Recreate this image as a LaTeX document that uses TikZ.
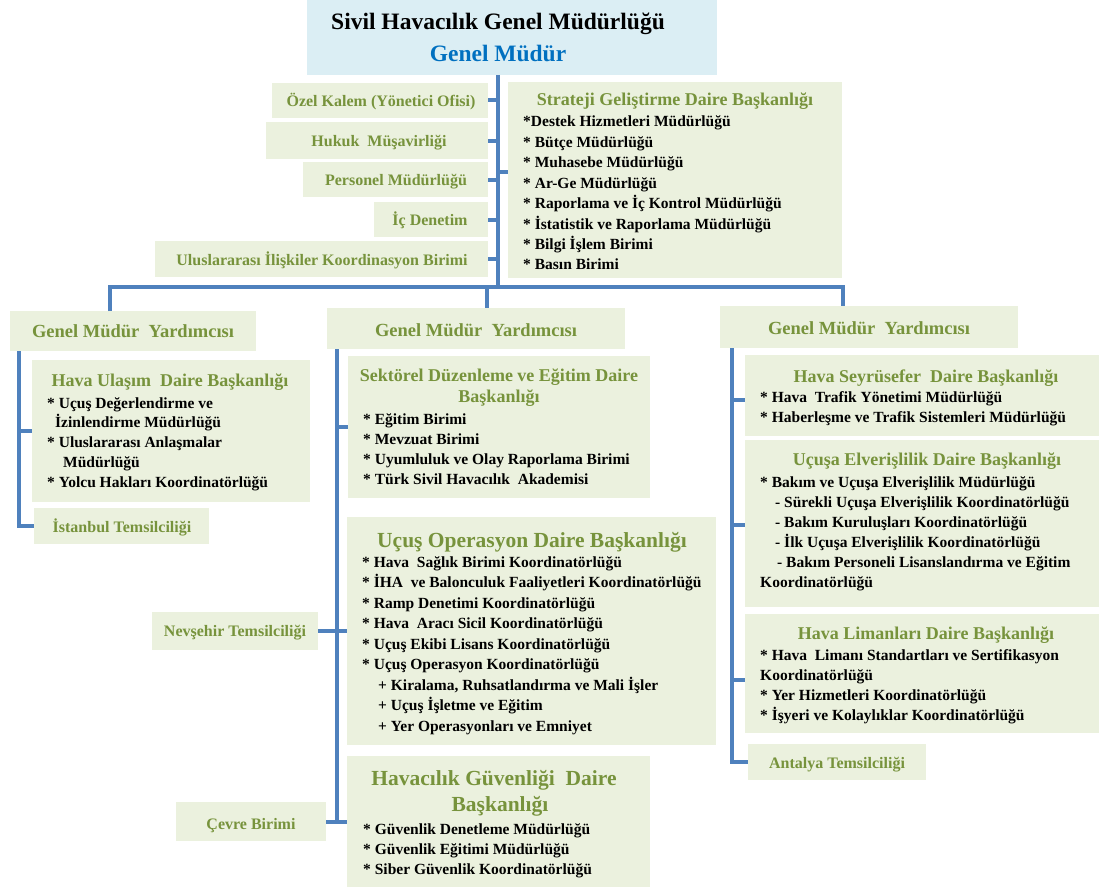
\documentclass[tikz,border=0pt]{standalone}
\usepackage{fontspec}
\setmainfont{Liberation Serif}
\definecolor{boxfill}{HTML}{EBF1DE}
\definecolor{topfill}{HTML}{DBEEF4}
\definecolor{lineblue}{HTML}{4F81BD}
\definecolor{grn}{HTML}{77933C}
\definecolor{topblue}{HTML}{0070C0}
\tikzset{
  box/.style={fill=boxfill, inner sep=0pt, outer sep=0pt, anchor=north west},
  conn/.style={draw=lineblue, line width=4pt},
  lbl/.style={text=grn, font=\bfseries\fontsize{16}{18}\selectfont, inner sep=0pt, anchor=base},
  gmy/.style={text=grn, font=\bfseries\fontsize{18.5}{21}\selectfont, inner sep=0pt, anchor=base},
  ttl/.style={text=grn, font=\bfseries\fontsize{18}{20}\selectfont, inner sep=0pt, anchor=base},
  bigttl/.style={text=grn, font=\bfseries\fontsize{21.5}{24}\selectfont, inner sep=0pt, anchor=base},
  itm/.style={text=black, font=\bfseries\fontsize{15.5}{18}\selectfont, inner sep=0pt, anchor=base west},
  toptxt/.style={font=\bfseries\fontsize{23.5}{26}\selectfont, inner sep=0pt, anchor=base},
}
\newcommand\bx[5]{\node[box, minimum width=#4pt, minimum height=#5pt] (#1) at (#2,#3) {};}
\newcommand\txtlines[5]{\foreach \myl [count=\myi] in {#5}{\node[itm] (#1\myi) at (#2,{#3+#4*(\myi-1)}) {\myl};}}
\begin{document}
\begin{tikzpicture}[x=1pt,y=-1pt]
\useasboundingbox (0,0) rectangle (1099,888);
% top
\node[box, fill=topfill, minimum width=410pt, minimum height=75pt] (top) at (307,0) {};
\node[toptxt] (toptitle) at (498,30) {Sivil Havacılık Genel Müdürlüğü};
\node[toptxt, text=topblue] (topsub) at (498,62) {Genel Müdür};
% staff units
\bx{ozel}{272}{83}{216}{35}
\node[lbl] (ozelt) at (381,106.5) {Özel Kalem (Yönetici Ofisi)};
\bx{hukuk}{266}{122}{222}{37}
\node[lbl] (hukukt) at (379,146) {Hukuk\ \ Müşavirliği};
\bx{pers}{303}{162}{185}{35}
\node[lbl] (perst) at (396,185) {Personel Müdürlüğü};
\bx{icd}{374}{202}{114}{35}
\node[lbl] (icdt) at (430,225) {İç Denetim};
\bx{ulus}{155}{241}{333}{36}
\node[lbl] (ulust) at (322,265) {Uluslararası İlişkiler Koordinasyon Birimi};
% strategy
\bx{strat}{508}{82}{334}{196}
\node[ttl] (stratt) at (675,106) {Strateji Geliştirme Daire Başkanlığı};
\txtlines{st}{523}{127}{20.4}{*Destek Hizmetleri Müdürlüğü, * Bütçe Müdürlüğü, * Muhasebe Müdürlüğü, * Ar-Ge Müdürlüğü, * Raporlama ve İç Kontrol Müdürlüğü, * İstatistik ve Raporlama Müdürlüğü, * Bilgi İşlem Birimi, * Basın Birimi}
% deputy directors
\bx{gmya}{10}{311}{246}{40}
\node[gmy] (gmyat) at (133,337) {Genel Müdür\ \ Yardımcısı};
\bx{gmyb}{327}{308}{298}{41}
\node[gmy] (gmybt) at (476,336) {Genel Müdür\ \ Yardımcısı};
\bx{gmyc}{720}{306}{298}{42}
\node[gmy] (gmyct) at (869,334) {Genel Müdür\ \ Yardımcısı};
% left column
\bx{hu}{32}{360}{278}{142}
\node[ttl] (hut) at (170,386) {Hava Ulaşım\ \ Daire Başkanlığı};
\txtlines{hui}{47}{408}{19.8}{* Uçuş Değerlendirme ve, \hspace*{8pt}İzinlendirme Müdürlüğü, * Uluslararası Anlaşmalar, \hspace*{16pt}Müdürlüğü, * Yolcu Hakları Koordinatörlüğü}
\bx{ist}{34}{508}{175}{36}
\node[lbl] (istt) at (122,532) {İstanbul Temsilciliği};
% center column
\bx{sek}{348}{356}{302}{142}
\node[ttl] (sekt1) at (499,381) {Sektörel Düzenleme ve Eğitim Daire};
\node[ttl] (sekt2) at (499,402) {Başkanlığı};
\txtlines{seki}{363}{424}{20}{* Eğitim Birimi, * Mevzuat Birimi, * Uyumluluk ve Olay Raporlama Birimi, * Türk Sivil Havacılık\ \ Akademisi}
\bx{uo}{347}{517}{369}{228}
\node[bigttl] (uot) at (532,547) {Uçuş Operasyon Daire Başkanlığı};
\txtlines{uoi}{362}{567}{20.5}{* Hava\ \ Sağlık Birimi Koordinatörlüğü, * İHA\ \ ve Balonculuk Faaliyetleri Koordinatörlüğü, * Ramp Denetimi Koordinatörlüğü, * Hava\ \ Aracı Sicil Koordinatörlüğü, * Uçuş Ekibi Lisans Koordinatörlüğü, * Uçuş Operasyon Koordinatörlüğü, {\hspace*{16pt}+ Kiralama, Ruhsatlandırma ve Mali İşler}, \hspace*{16pt}+ Uçuş İşletme ve Eğitim, \hspace*{16pt}+ Yer Operasyonları ve Emniyet}
\bx{nev}{152}{612}{166}{38}
\node[lbl] (nevt) at (235,636.5) {Nevşehir Temsilciliği};
\bx{hg}{347}{756}{303}{131}
\node[bigttl] (hgt1) at (494,785) {Havacılık Güvenliği\ \ Daire};
\node[bigttl] (hgt2) at (500,811) {Başkanlığı};
\txtlines{hgi}{363}{834}{20}{* Güvenlik Denetleme Müdürlüğü, * Güvenlik Eğitimi Müdürlüğü, * Siber Güvenlik Koordinatörlüğü}
\bx{cev}{176}{802}{150}{39}
\node[lbl] (cevt) at (251,829) {Çevre Birimi};
% right column
\bx{seyr}{745}{355}{354}{81}
\node[ttl] (seyrt) at (926,382) {Hava Seyrüsefer\ \ Daire Başkanlığı};
\txtlines{seyri}{760}{402}{20}{* Hava\ \ Trafik Yönetimi Müdürlüğü, * Haberleşme ve Trafik Sistemleri Müdürlüğü}
\bx{elv}{745}{440}{354}{167}
\node[ttl] (elvt) at (927,465) {Uçuşa Elverişlilik Daire Başkanlığı};
\txtlines{elvi}{760}{487}{20}{* Bakım ve Uçuşa Elverişlilik Müdürlüğü, \hspace*{15pt}- Sürekli Uçuşa Elverişlilik Koordinatörlüğü, \hspace*{15pt}- Bakım Kuruluşları Koordinatörlüğü, \hspace*{15pt}- İlk Uçuşa Elverişlilik Koordinatörlüğü, \hspace*{17pt}- Bakım Personeli Lisanslandırma ve Eğitim, Koordinatörlüğü}
\bx{hl}{745}{614}{354}{119}
\node[ttl] (hlt) at (926,639) {Hava Limanları Daire Başkanlığı};
\txtlines{hli}{760}{660}{20}{* Hava\ \ Limanı Standartları ve Sertifikasyon, Koordinatörlüğü, * Yer Hizmetleri Koordinatörlüğü, * İşyeri ve Kolaylıklar Koordinatörlüğü}
\bx{ant}{748}{744}{178}{36}
\node[lbl] (antt) at (837,768) {Antalya Temsilciliği};
% connectors
\coordinate (trunk) at (498,287);
\coordinate (da) at (110,287);
\coordinate (db) at (487,287);
\coordinate (dc) at (843,287);
\coordinate (sj) at (498,172);
\coordinate (lv) at (19,0);
\coordinate (cv) at (337,0);
\coordinate (rv) at (732,0);
\draw[conn] (top.south -| trunk) -- (trunk);
\draw[conn] (gmya.north -| da) -- (da) -- (dc) -- (gmyc.north -| dc);
\draw[conn] (db) -- (gmyb.north -| db);
\foreach \u in {ozel,hukuk,pers,icd,ulus} {\draw[conn] (\u.east) -- (\u.east -| trunk);}
\draw[conn] (sj) -- (sj -| strat.west);
\draw[conn] (gmya.south -| lv) -- (lv |- ist.west) -- (ist.west);
\draw[conn] (lv |- hu.west) -- (hu.west);
\draw[conn] (gmyb.south -| cv) -- (cv |- cev.east);
\draw[conn] (cv |- sek.west) -- (sek.west);
\draw[conn] (nev.east) -- (nev.east -| uo.west);
\draw[conn] (cev.east) -- (cev.east -| hg.west);
\draw[conn] (gmyc.south -| rv) -- (rv |- ant.west) -- (ant.west);
\coordinate (ra) at (732,400);
\coordinate (rb) at (732,525);
\coordinate (rc) at (732,680);
\draw[conn] (ra) -- (ra -| seyr.west);
\draw[conn] (rb) -- (rb -| elv.west);
\draw[conn] (rc) -- (rc -| hl.west);
\end{tikzpicture}
\end{document}
